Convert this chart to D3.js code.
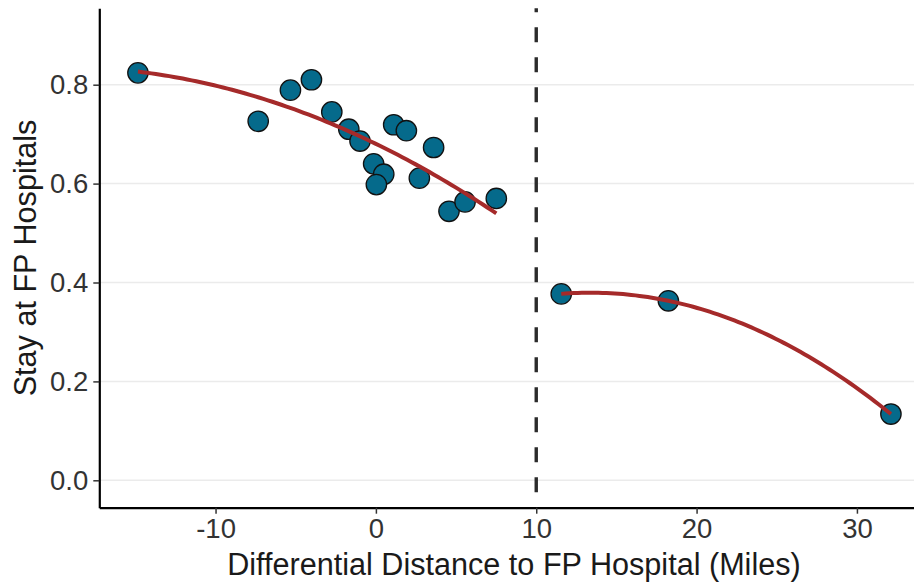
<!DOCTYPE html>
<html>
<head>
<meta charset="utf-8">
<script src="https://cdn.jsdelivr.net/npm/d3@7/dist/d3.min.js"></script>
<style>
  html, body { margin: 0; padding: 0; background: #fff; }
  svg { display: block; font-family: Arial, "Liberation Sans", sans-serif; }
</style>
</head>
<body>
<svg id="chart" width="914" height="584"></svg>
<script>
// Hospitals below the distance cutoff
const distLeft = [-14.84, -7.34, -5.33, -4.02, -2.75, -1.69, -0.99, -0.14, 0.49, 0.03, 1.11, 1.90, 3.60, 2.71, 4.56, 5.56, 7.51];
const stayLeft = [0.824, 0.726, 0.789, 0.810, 0.745, 0.710, 0.686, 0.640, 0.619, 0.598, 0.719, 0.707, 0.673, 0.611, 0.544, 0.563, 0.570];
// Hospitals above the distance cutoff
const distRight = [11.56, 18.24, 32.12];
const stayRight = [0.377, 0.363, 0.134];
const cutoff = 10;
const xTicks = [-10, 0, 10, 20, 30];
const yTicks = [0.0, 0.2, 0.4, 0.6, 0.8];

const svg = d3.select("#chart");
const padL = 99.3, padR = 928.6, padT = 8.3, padB = 507.7;

const x = d3.scaleLinear().domain([-17.25, 34.47]).range([padL, padR]);
const y = d3.scaleLinear().domain([-0.0554, 0.9545]).range([padB, padT]);

// Least-squares quadratic fit y = a + b x + c x^2
function quadFit(xs, ys) {
  const n = xs.length;
  const s = [0, 0, 0, 0, 0], t = [0, 0, 0];
  for (let i = 0; i < n; i++) {
    let p = 1;
    for (let k = 0; k < 5; k++) { s[k] += p; if (k < 3) t[k] += p * ys[i]; p *= xs[i]; }
  }
  const M = [[s[0], s[1], s[2], t[0]], [s[1], s[2], s[3], t[1]], [s[2], s[3], s[4], t[2]]];
  for (let i = 0; i < 3; i++) {
    let piv = i;
    for (let r = i + 1; r < 3; r++) if (Math.abs(M[r][i]) > Math.abs(M[piv][i])) piv = r;
    [M[i], M[piv]] = [M[piv], M[i]];
    for (let r = 0; r < 3; r++) {
      if (r === i) continue;
      const f = M[r][i] / M[i][i];
      for (let c = i; c < 4; c++) M[r][c] -= f * M[i][c];
    }
  }
  const coef = [M[0][3] / M[0][0], M[1][3] / M[1][1], M[2][3] / M[2][2]];
  return v => coef[0] + coef[1] * v + coef[2] * v * v;
}

function fitCurve(xs, ys) {
  const f = quadFit(xs, ys);
  const [lo, hi] = d3.extent(xs);
  return d3.range(0, 81).map(i => { const v = lo + (hi - lo) * i / 80; return [v, f(v)]; });
}

// Horizontal grid
svg.append("g").selectAll("line").data(yTicks).join("line")
  .attr("x1", padL).attr("x2", padR)
  .attr("y1", d => y(d)).attr("y2", d => y(d))
  .attr("stroke", "#ebebeb").attr("stroke-width", 1.5);

// Cutoff line
svg.append("line")
  .attr("x1", x(cutoff)).attr("x2", x(cutoff))
  .attr("y1", padT).attr("y2", padB)
  .attr("stroke", "#2b2b2b").attr("stroke-width", 3.4)
  .attr("stroke-dasharray", "15 15").attr("stroke-dashoffset", 11);

// Points
const pts = distLeft.map((d, i) => [d, stayLeft[i]]).concat(distRight.map((d, i) => [d, stayRight[i]]));
svg.append("g").selectAll("circle").data(pts).join("circle")
  .attr("cx", d => x(d[0])).attr("cy", d => y(d[1])).attr("r", 10.2)
  .attr("fill", "#056a8b").attr("stroke", "#111").attr("stroke-width", 1.3);

// Fitted curves on each side of the cutoff
const line = d3.line().x(d => x(d[0])).y(d => y(d[1]));
[[distLeft, stayLeft], [distRight, stayRight]].forEach(([xs, ys]) => {
  svg.append("path").datum(fitCurve(xs, ys)).attr("d", line)
    .attr("fill", "none").attr("stroke", "#a52a2a").attr("stroke-width", 4);
});

// Axes
const xAxis = svg.append("g").attr("transform", `translate(0,${padB})`)
  .call(d3.axisBottom(x).tickValues(xTicks).tickSizeInner(6).tickSizeOuter(0).tickPadding(5).tickFormat(d3.format("d")));
const yAxis = svg.append("g").attr("transform", `translate(${padL},0)`)
  .call(d3.axisLeft(y).tickValues(yTicks).tickSizeInner(6).tickSizeOuter(0).tickPadding(5).tickFormat(d3.format(".1f")));

[xAxis, yAxis].forEach(g => {
  g.select(".domain").attr("stroke", "#000").attr("stroke-width", 2.2);
  g.selectAll(".tick line").attr("stroke", "#333").attr("stroke-width", 1.5);
  g.selectAll(".tick text").attr("fill", "#333").style("font-size", "27.5px")
    .style("font-family", "Arial, 'Liberation Sans', sans-serif");
});
xAxis.selectAll(".tick text").text(d => d < 0 ? "-" + Math.abs(d) : d);

// Axis titles
svg.append("text")
  .attr("x", (padL + padR) / 2).attr("y", 575)
  .attr("text-anchor", "middle").attr("fill", "#1a1a1a")
  .style("font-size", "30.6px")
  .text("Differential Distance to FP Hospital (Miles)");

svg.append("text")
  .attr("transform", `translate(36,${(padT + padB) / 2}) rotate(-90)`)
  .attr("text-anchor", "middle").attr("fill", "#1a1a1a")
  .style("font-size", "30.6px")
  .text("Stay at FP Hospitals");
</script>
</body>
</html>
